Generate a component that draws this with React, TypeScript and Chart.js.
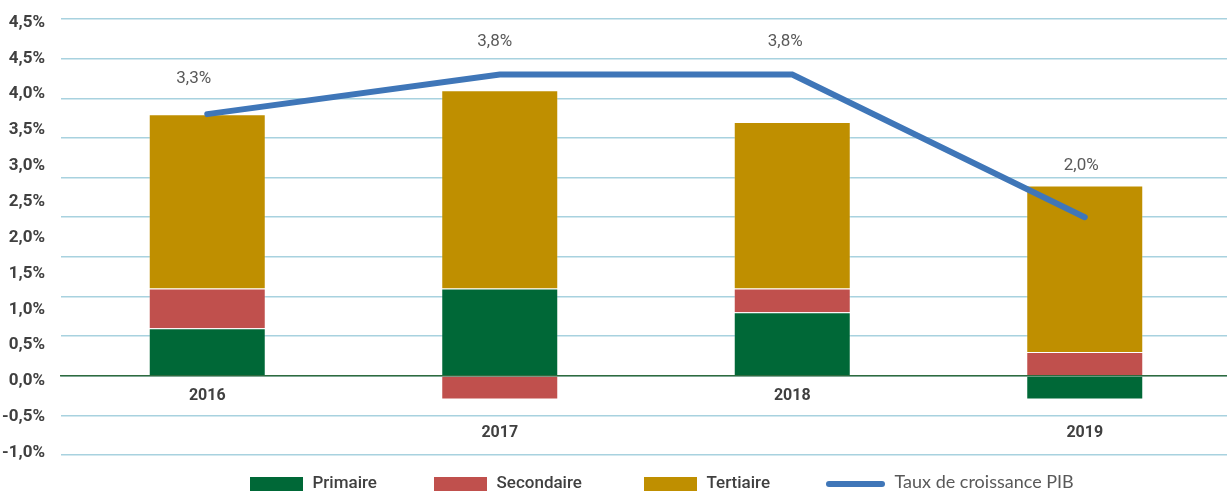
import React, { useEffect, useRef } from 'react';
import { Chart, registerables } from 'chart.js';

Chart.register(...registerables);

// ---- Data ----
const categories = ['2016', '2017', '2018', '2019'];
const primaire = [0.6, 1.1, 0.8, -0.3];
const secondaire = [0.5, -0.3, 0.3, 0.3];
const tertiaire = [2.2, 2.5, 2.1, 2.1];
const croissancePib = [3.3, 3.8, 3.8, 2.0];
const yTickLabels = ['-1,0%', '-0,5%', '0,0%', '0,5%', '1,0%', '1,5%', '2,0%', '2,5%', '3,0%', '3,5%', '4,0%', '4,5%', '4,5%'];
const seriesNames = ['Primaire', 'Secondaire', 'Tertiaire', 'Taux de croissance PIB'];

// ---- Styles ----
const GREEN = '#006837';
const RED = '#C0504D';
const GOLD = '#BF8F00';
const BLUE = '#3F76B8';
const NARROW = 'Roboto, "DejaVu Sans Condensed", sans-serif';
const LINE_LEGEND_FONT = 'Lato, "Open Sans", sans-serif';

const fmt = (v: number) => v.toFixed(1).replace('.', ',') + '%';

const pibLabelsPlugin = {
  id: 'pibLabels',
  afterDatasetsDraw(chart: any) {
    const idx = chart.data.datasets.findIndex((d: any) => d.type === 'line');
    if (idx < 0) return;
    const meta = chart.getDatasetMeta(idx);
    const ds = chart.data.datasets[idx];
    const dx = [-13.5, -5, -7, -3.5];
    const dy = [35, 33, 33, 51.5];
    const ctx = chart.ctx;
    ctx.save();
    ctx.font = `17px ${NARROW}`;
    ctx.fillStyle = '#595959';
    ctx.textAlign = 'center';
    ctx.textBaseline = 'middle';
    meta.data.forEach((pt: any, i: number) => {
      ctx.fillText(fmt(ds.data[i]), pt.x + dx[i], pt.y - dy[i]);
    });
    ctx.restore();
  },
};

const legendPlugin = {
  id: 'bottomLegend',
  afterDraw(chart: any) {
    const ctx = chart.ctx;
    const y = 484;
    const itemX = [250, 434, 644, 826];
    chart.data.datasets.forEach((ds: any, i: number) => {
      ctx.save();
      let x = itemX[i];
      const isLine = ds.type === 'line';
      let ty = y;
      if (isLine) {
        ctx.strokeStyle = ds.borderColor;
        ctx.lineWidth = 6;
        ctx.lineCap = 'round';
        ctx.beginPath();
        ctx.moveTo(x + 3, y);
        ctx.lineTo(x + 56, y);
        ctx.stroke();
        x += 59;
        ctx.font = `18px ${LINE_LEGEND_FONT}`;
        ctx.fillStyle = '#595959';
        ty = y - 2;
      } else {
        ctx.fillStyle = ds.backgroundColor;
        ctx.fillRect(x, y - 7, 53, 14);
        x += 53;
        ctx.font = `500 17px ${NARROW}`;
        ctx.fillStyle = '#404040';
      }
      x += 9.5;
      ctx.textAlign = 'left';
      ctx.textBaseline = 'middle';
      ctx.fillText(ds.label, x, ty);
      ctx.restore();
    });
  },
};

export default function App() {
  const ref = useRef<HTMLCanvasElement>(null);

  useEffect(() => {
    if (!ref.current) return;
    const barCommon = {
      type: 'bar' as const,
      barPercentage: 0.4,
      categoryPercentage: 1,
      borderWidth: 1,
      borderColor: 'rgba(255,255,255,0.22)',
      order: 1,
    };
    const chart = new Chart(ref.current, {
      type: 'bar',
      data: {
        labels: categories,
        datasets: [
          { ...barCommon, label: seriesNames[0], data: primaire, backgroundColor: GREEN },
          { ...barCommon, label: seriesNames[1], data: secondaire, backgroundColor: RED },
          { ...barCommon, label: seriesNames[2], data: tertiaire, backgroundColor: GOLD },
          {
            type: 'line',
            label: seriesNames[3],
            data: croissancePib,
            borderColor: BLUE,
            backgroundColor: BLUE,
            borderWidth: 6,
            borderCapStyle: 'round',
            borderJoinStyle: 'miter',
            pointRadius: 0,
            pointHoverRadius: 0,
            fill: false,
            tension: 0,
            order: 0,
            stack: 'pib',
          } as any,
        ],
      },
      options: {
        animation: false,
        responsive: true,
        maintainAspectRatio: false,
        layout: { padding: { top: 19, bottom: 40, left: 0, right: 0 } },
        plugins: {
          legend: { display: false },
          tooltip: { enabled: false },
        },
        scales: {
          x: {
            type: 'category',
            stacked: true,
            position: { y: 0 } as any,
            grid: { display: false, drawTicks: false },
            border: { display: true, color: '#2E6B3E', width: 1.5, z: 1 } as any,
            ticks: {
              autoSkip: false,
              maxRotation: 0,
              minRotation: 0,
              padding: 2,
              color: '#404040',
              font: { family: NARROW, size: 16, weight: 'bold', lineHeight: 37 / 16 },
              callback: (_v: any, i: number) => (i % 2 ? ['', categories[i]] : categories[i]),
            },
          },
          y: {
            type: 'linear',
            stacked: true,
            min: -1,
            max: 4.5,
            weight: 0,
            ticks: { display: false, stepSize: 0.5 },
            grid: { color: '#A8D2DF', lineWidth: 1.5, drawTicks: false },
            border: { display: false },
            afterFit: (s: any) => {
              s.width = 16;
            },
          },
          yLabels: {
            type: 'linear',
            axis: 'y',
            position: 'left',
            weight: 1,
            min: -0.064,
            max: 12.098,
            grid: { display: false, drawTicks: false },
            border: { display: false },
            afterBuildTicks: (s: any) => {
              s.ticks = yTickLabels.map((_l, i) => ({ value: i }));
            },
            ticks: {
              autoSkip: false,
              padding: 0,
              color: '#404040',
              font: { family: NARROW, size: 17, weight: 'bold' },
              callback: (_v: any, i: number) => yTickLabels[i] ?? '',
            },
            afterFit: (s: any) => {
              s.width = 45;
            },
          } as any,
        },
      },
      plugins: [pibLabelsPlugin, legendPlugin],
    });
    return () => chart.destroy();
  }, []);

  return (
    <div
      style={{
        position: 'fixed',
        left: 0,
        top: 0,
        width: 1227,
        height: 495,
        overflow: 'hidden',
        background: '#ffffff',
      }}
    >
      <div style={{ position: 'relative', width: 1231, height: 495 }}>
        <canvas ref={ref} />
      </div>
    </div>
  );
}
